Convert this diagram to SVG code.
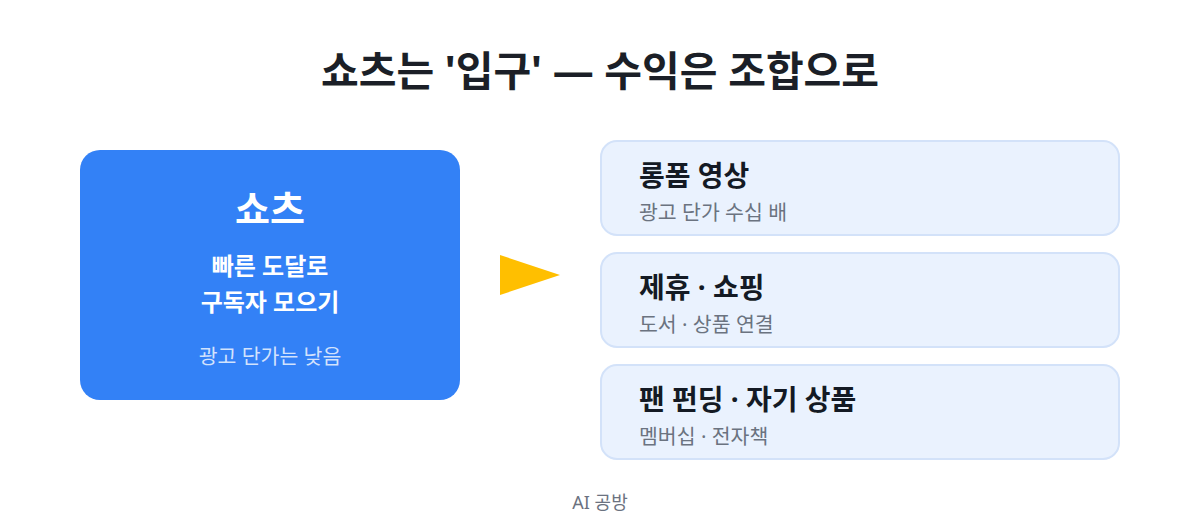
<svg xmlns="http://www.w3.org/2000/svg" width="1200" height="520" viewBox="0 0 1200 520">
<style>
text{font-family:"Noto Sans","Noto Sans CJK KR",sans-serif}
.title{font-size:41px;font-weight:700;fill:#1b1f27;text-anchor:middle}
.card{fill:#eaf2fe;stroke:#d3e2f9;stroke-width:2}
.ct{font-size:28px;font-weight:700;fill:#141a24}
.cs{font-size:20.5px;fill:#6b7380}
.foot{font-size:18px;fill:#6b7280;text-anchor:middle}
</style>
<rect width="1200" height="520" fill="#ffffff"/>
<text class="title" x="600" y="86">쇼츠는 '입구' — 수익은 조합으로</text>
<g id="shorts">
<rect x="80" y="150" width="380" height="250" rx="20" fill="#3381f6"/>
<text x="270" y="223" font-size="38" font-weight="700" fill="#ffffff" text-anchor="middle">쇼츠</text>
<text x="270" y="275" font-size="24" font-weight="700" fill="#ffffff" text-anchor="middle">빠른 도달로</text>
<text x="270" y="311" font-size="24" font-weight="700" fill="#ffffff" text-anchor="middle">구독자 모으기</text>
<text x="270" y="364" font-size="20.5" fill="#ffffff" fill-opacity="0.78" text-anchor="middle">광고 단가는 낮음</text>
</g>
<g id="connectors">
<polygon points="500,255 560,275 500,295" fill="#ffbf00"/>
</g>
<g id="longform">
<rect class="card" x="601" y="141" width="518" height="94" rx="16"/>
<text class="ct" x="639" y="186">롱폼 영상</text>
<text class="cs" x="639" y="220">광고 단가 수십 배</text>
</g>
<g id="affiliate">
<rect class="card" x="601" y="253" width="518" height="94" rx="16"/>
<text class="ct" x="639" y="298">제휴 · 쇼핑</text>
<text class="cs" x="639" y="332">도서 · 상품 연결</text>
</g>
<g id="funding">
<rect class="card" x="601" y="365" width="518" height="94" rx="16"/>
<text class="ct" x="639" y="410">팬 펀딩 · 자기 상품</text>
<text class="cs" x="639" y="444">멤버십 · 전자책</text>
</g>
<text class="foot" x="600" y="509">AI 공방</text>
</svg>
